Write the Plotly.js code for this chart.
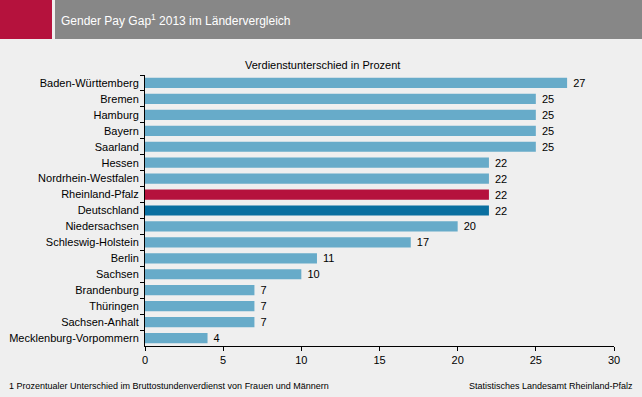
<!DOCTYPE html>
<html>
<head>
<meta charset="utf-8">
<script src="https://cdn.plot.ly/plotly-3.0.1.min.js"></script>
<style>html,body{margin:0;padding:0;background:#efefef;}#chart{width:642px;height:397px;}</style>
</head>
<body>
<div id="chart"></div>
<script>
const categories = ["Baden-Württemberg","Bremen","Hamburg","Bayern","Saarland","Hessen","Nordrhein-Westfalen","Rheinland-Pfalz","Deutschland","Niedersachsen","Schleswig-Holstein","Berlin","Sachsen","Brandenburg","Thüringen","Sachsen-Anhalt","Mecklenburg-Vorpommern"];
const values = [27,25,25,25,25,22,22,22,22,20,17,11,10,7,7,7,4];
const xTicks = [0,5,10,15,20,25,30];

const colors = categories.map(c => c === "Rheinland-Pfalz" ? "#b5123d" : (c === "Deutschland" ? "#0a6fa0" : "#67abc9"));

const L = 145, R = 28, T = 75, B = 51, W = 642, H = 397;
const pw = W - L - R, ph = H - T - B;
const px = x => (x - L) / pw;
const py = y => (H - B - y) / ph;

const trace = {
  type: "bar",
  orientation: "h",
  y: categories,
  x: values,
  marker: {color: colors},
  text: values.map(v => "\u00a0" + v),
  textposition: "outside",
  constraintext: "none",
  cliponaxis: false,
  textfont: {family: "Liberation Sans, Arial, sans-serif", size: 11, color: "#000"},
  hoverinfo: "none"
};

const layout = {
  width: W, height: H,
  margin: {l: L, r: R, t: T, b: B, pad: 0},
  paper_bgcolor: "#efefef",
  plot_bgcolor: "#efefef",
  font: {family: "Liberation Sans, Arial, sans-serif", size: 11, color: "#000"},
  bargap: 0.36,
  showlegend: false,
  xaxis: {
    range: [0, 30], tickvals: xTicks, ticktext: xTicks.map(String),
    showgrid: false, zeroline: false, showline: true, linecolor: "#000", linewidth: 1,
    ticks: "outside", ticklen: 4, tickcolor: "#000", fixedrange: true
  },
  yaxis: {
    autorange: "reversed", type: "category",
    showgrid: false, zeroline: false, showline: true, linecolor: "#000", linewidth: 1,
    ticks: "outside", ticklen: 4, tickcolor: "#000", tickson: "boundaries", ticklabelstandoff: 3,
    fixedrange: true
  },
  shapes: [
    {type: "rect", xref: "paper", yref: "paper", x0: px(0), x1: px(52), y0: py(39), y1: py(0), fillcolor: "#b5123d", line: {width: 0}, layer: "above"},
    {type: "rect", xref: "paper", yref: "paper", x0: px(55), x1: px(642), y0: py(39), y1: py(0), fillcolor: "#878787", line: {width: 0}, layer: "above"}
  ],
  annotations: [
    {xref: "paper", yref: "paper", x: px(59), y: py(20), xanchor: "left", yanchor: "middle", showarrow: false,
     text: "Gender Pay Gap<sup>1</sup> 2013 im Ländervergleich", font: {size: 12, color: "#fff"}},
    {xref: "paper", yref: "paper", x: px(322), y: py(65), xanchor: "center", yanchor: "middle", showarrow: false,
     text: "Verdienstunterschied in Prozent", font: {size: 11, color: "#000"}},
    {xref: "paper", yref: "paper", x: px(7), y: py(386), xanchor: "left", yanchor: "middle", showarrow: false,
     text: "1 Prozentualer Unterschied im Bruttostundenverdienst von Frauen und Männern", font: {size: 9, color: "#000"}},
    {xref: "paper", yref: "paper", x: px(635), y: py(386), xanchor: "right", yanchor: "middle", showarrow: false,
     text: "Statistisches Landesamt Rheinland-Pfalz", font: {size: 9, color: "#000"}}
  ]
};

Plotly.newPlot("chart", [trace], layout, {staticPlot: true, displayModeBar: false});
</script>
</body>
</html>
